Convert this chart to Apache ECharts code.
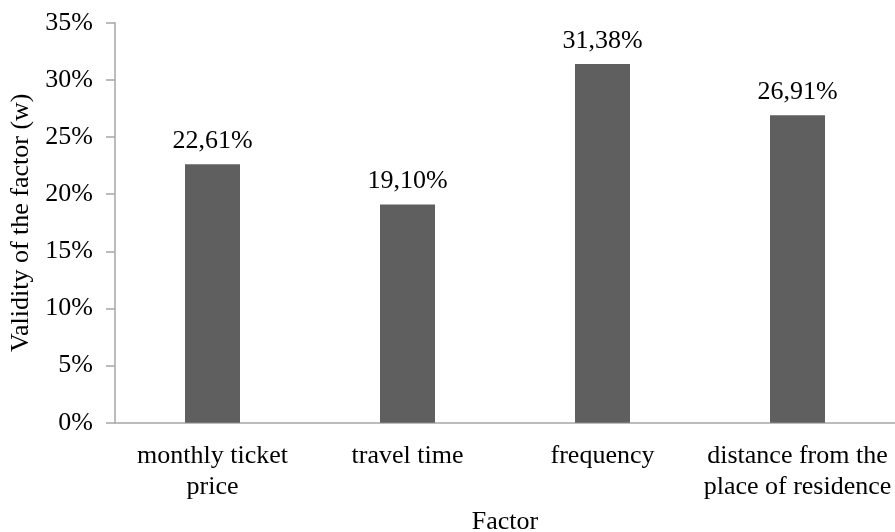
<!DOCTYPE html>
<html>
<head>
<meta charset="utf-8">
<script src="https://cdn.jsdelivr.net/npm/echarts@6/dist/echarts.min.js"></script>
<style>
html,body{margin:0;padding:0;background:#fff;}
#chart{width:895px;height:532px;}
</style>
</head>
<body>
<div id="chart"></div>
<script>
const categories = ['monthly ticket\nprice', 'travel time', 'frequency', 'distance from the\nplace of residence'];
const values = [22.61, 19.10, 31.38, 26.91];
const yTicks = [0, 5, 10, 15, 20, 25, 30, 35];
const xAxisTitle = 'Factor';
const yAxisTitle = 'Validity of the factor (w)';

const FONT = '"Liberation Serif", "Times New Roman", serif';
const chart = echarts.init(document.getElementById('chart'), null, {renderer: 'canvas'});
chart.setOption({
  animation: false,
  backgroundColor: '#ffffff',
  textStyle: {fontFamily: FONT, color: '#000'},
  grid: {left: 115, right: 0, top: 22.7, bottom: 109.3, containLabel: false, outerBoundsMode: 'none'},
  xAxis: {
    type: 'category',
    data: categories,
    name: xAxisTitle,
    nameLocation: 'middle',
    nameGap: 86,
    nameTextStyle: {fontFamily: FONT, fontSize: 26, color: '#000'},
    axisLine: {lineStyle: {color: '#a6a6a6', width: 1.5}},
    axisTick: {show: false},
    axisLabel: {interval: 0, fontFamily: FONT, fontSize: 26, color: '#000', lineHeight: 31, margin: 18}
  },
  yAxis: {
    type: 'value',
    min: yTicks[0],
    max: yTicks[yTicks.length - 1],
    interval: yTicks[1] - yTicks[0],
    name: yAxisTitle,
    nameLocation: 'middle',
    nameGap: 80,
    nameTextStyle: {fontFamily: FONT, fontSize: 26, color: '#000'},
    axisLine: {show: true, lineStyle: {color: '#a6a6a6', width: 1.5}},
    axisTick: {show: true, length: 9, lineStyle: {color: '#a6a6a6', width: 1.5}},
    splitLine: {show: false},
    axisLabel: {fontFamily: FONT, fontSize: 26, color: '#000', margin: 22, formatter: '{value}%'}
  },
  series: [{
    type: 'bar',
    data: values,
    barWidth: 55,
    itemStyle: {color: '#5f5f5f'},
    label: {
      show: true,
      position: 'top',
      distance: 10,
      fontFamily: FONT,
      fontSize: 26,
      color: '#000',
      formatter: p => p.value.toFixed(2).replace('.', ',') + '%'
    }
  }]
});
</script>
</body>
</html>
